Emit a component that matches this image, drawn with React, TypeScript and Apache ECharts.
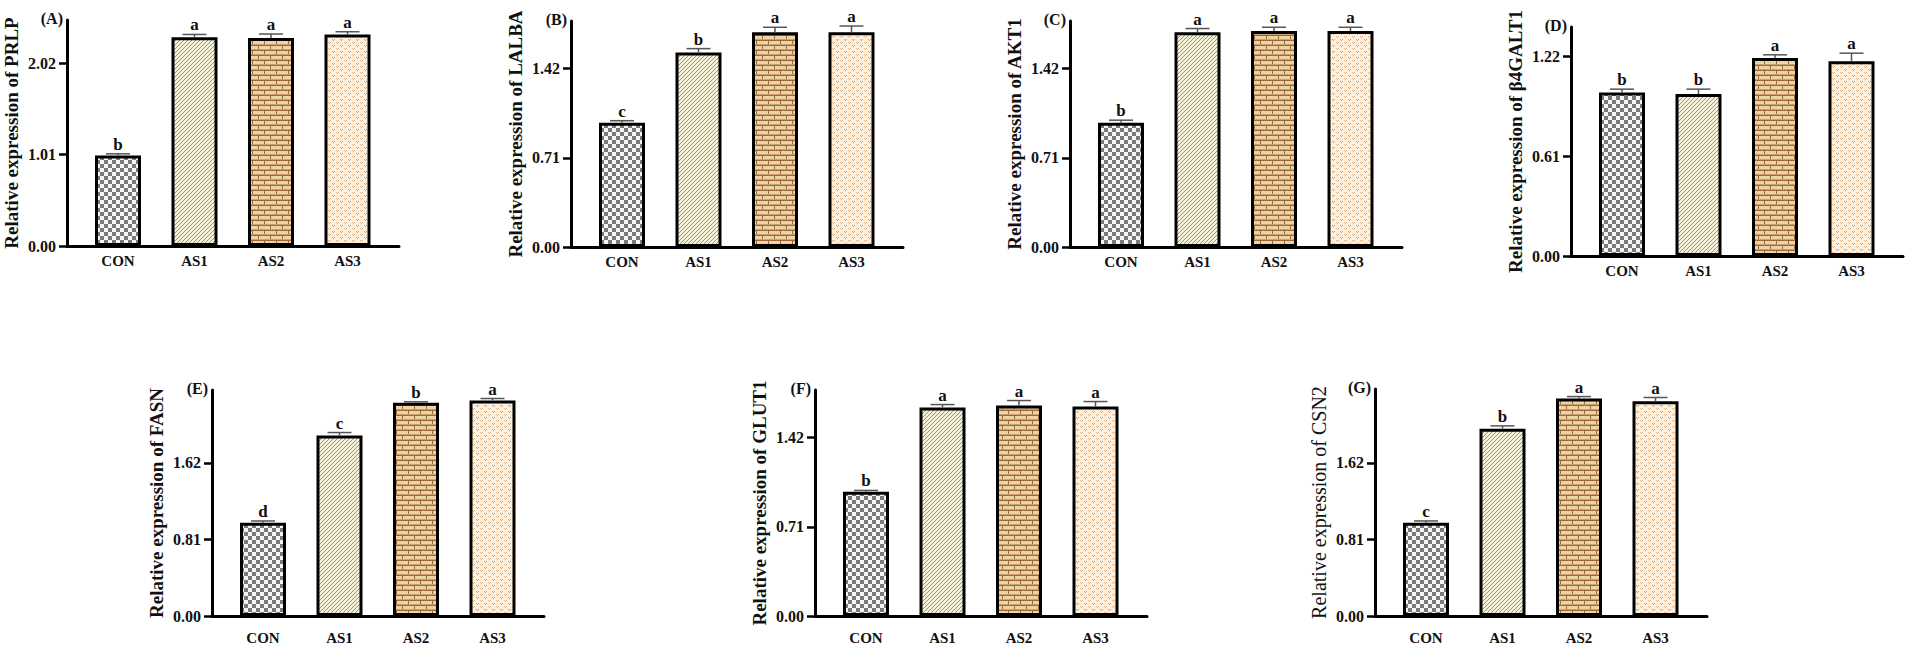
import React, { useEffect, useRef } from "react";
import * as echarts from "echarts";

const categories = ["CON", "AS1", "AS2", "AS3"];

const prlpMeans = [1.0, 2.31, 2.3, 2.34];
const prlpErrors = [0.02, 0.03, 0.045, 0.03];
const prlpLetters = ["b", "a", "a", "a"];
const prlpTicks = [0, 1.01, 2.02];

const lalbaMeans = [0.99, 1.55, 1.71, 1.71];
const lalbaErrors = [0.016, 0.03, 0.04, 0.05];
const lalbaLetters = ["c", "b", "a", "a"];
const lalbaTicks = [0, 0.71, 1.42];

const akt1Means = [0.99, 1.71, 1.72, 1.72];
const akt1Errors = [0.02, 0.03, 0.03, 0.03];
const akt1Letters = ["b", "a", "a", "a"];
const akt1Ticks = [0, 0.71, 1.42];

const galtMeans = [1.0, 0.99, 1.21, 1.19];
const galtErrors = [0.02, 0.03, 0.02, 0.05];
const galtLetters = ["b", "b", "a", "a"];
const galtTicks = [0, 0.61, 1.22];

const fasnMeans = [0.985, 1.91, 2.255, 2.28];
const fasnErrors = [0.02, 0.03, 0.01, 0.02];
const fasnLetters = ["d", "c", "b", "a"];
const fasnTicks = [0, 0.81, 1.62];

const glut1Means = [0.99, 1.66, 1.676, 1.668];
const glut1Errors = [0.01, 0.024, 0.04, 0.04];
const glut1Letters = ["b", "a", "a", "a"];
const glut1Ticks = [0, 0.71, 1.42];

const csn2Means = [0.985, 1.98, 2.3, 2.27];
const csn2Errors = [0.02, 0.03, 0.02, 0.04];
const csn2Letters = ["c", "b", "a", "a"];
const csn2Ticks = [0, 0.81, 1.62];

const axisMaxes = [2.5, 1.8, 1.8, 1.4, 2.39, 1.8, 2.4];

const FONT = '"Liberation Serif", "Times New Roman", serif';

type Panel = {
  tag: string;
  gene: string;
  means: number[];
  errors: number[];
  letters: string[];
  ticks: number[];
  max: number;
  axisX: number;
  top: number;
  bottom: number;
  labelMargin: number;
  boldTitle: boolean;
};

const panels: Panel[] = [
  { tag: "(A)", gene: "PRLP", means: prlpMeans, errors: prlpErrors, letters: prlpLetters, ticks: prlpTicks, max: axisMaxes[0], axisX: 67, top: 20, bottom: 246, labelMargin: 7, boldTitle: true },
  { tag: "(B)", gene: "LALBA", means: lalbaMeans, errors: lalbaErrors, letters: lalbaLetters, ticks: lalbaTicks, max: axisMaxes[1], axisX: 571, top: 21, bottom: 247, labelMargin: 7, boldTitle: true },
  { tag: "(C)", gene: "AKT1", means: akt1Means, errors: akt1Errors, letters: akt1Letters, ticks: akt1Ticks, max: axisMaxes[2], axisX: 1070, top: 21, bottom: 247, labelMargin: 7, boldTitle: true },
  { tag: "(D)", gene: "β4GALT1", means: galtMeans, errors: galtErrors, letters: galtLetters, ticks: galtTicks, max: axisMaxes[3], axisX: 1571, top: 27, bottom: 256, labelMargin: 7, boldTitle: true },
  { tag: "(E)", gene: "FASN", means: fasnMeans, errors: fasnErrors, letters: fasnLetters, ticks: fasnTicks, max: axisMaxes[4], axisX: 212, top: 390, bottom: 616, labelMargin: 14, boldTitle: true },
  { tag: "(F)", gene: "GLUT1", means: glut1Means, errors: glut1Errors, letters: glut1Letters, ticks: glut1Ticks, max: axisMaxes[5], axisX: 815, top: 390, bottom: 616, labelMargin: 14, boldTitle: true },
  { tag: "(G)", gene: "CSN2", means: csn2Means, errors: csn2Errors, letters: csn2Letters, ticks: csn2Ticks, max: axisMaxes[6], axisX: 1375, top: 389, bottom: 616, labelMargin: 14, boldTitle: false },
];

function makeTile(w: number, h: number, draw: (ctx: CanvasRenderingContext2D) => void) {
  const c = document.createElement("canvas");
  c.width = w;
  c.height = h;
  const ctx = c.getContext("2d") as CanvasRenderingContext2D;
  draw(ctx);
  return { image: c.toDataURL(), repeat: "repeat", imageWidth: w, imageHeight: h };
}

function makePatterns() {
  const checker = makeTile(8, 8, (ctx) => {
    ctx.fillStyle = "#f6f6f6";
    ctx.fillRect(0, 0, 8, 8);
    ctx.fillStyle = "#7a7a7a";
    ctx.fillRect(0, 0, 4, 4);
    ctx.fillRect(4, 4, 4, 4);
  });
  const hatch = makeTile(4, 4, (ctx) => {
    ctx.fillStyle = "#f4f1d8";
    ctx.fillRect(0, 0, 4, 4);
    ctx.fillStyle = "#9a977a";
    ctx.fillRect(3, 0, 1, 1);
    ctx.fillRect(2, 1, 1, 1);
    ctx.fillRect(1, 2, 1, 1);
    ctx.fillRect(0, 3, 1, 1);
  });
  const brick = makeTile(12, 10, (ctx) => {
    ctx.fillStyle = "#edd4a6";
    ctx.fillRect(0, 0, 12, 10);
    ctx.fillStyle = "#9c6838";
    ctx.fillRect(0, 0, 12, 1);
    ctx.fillRect(0, 5, 12, 1);
    ctx.fillRect(0, 1, 1, 4);
    ctx.fillRect(6, 6, 1, 4);
    ctx.fillStyle = "#c9a070";
    ctx.fillRect(0, 4, 12, 1);
    ctx.fillRect(0, 9, 12, 1);
  });
  const dots = makeTile(8, 6, (ctx) => {
    ctx.fillStyle = "#fdf0de";
    ctx.fillRect(0, 0, 8, 6);
    ctx.fillStyle = "#e8b07c";
    ctx.fillRect(0, 0, 1, 1);
    ctx.fillRect(2, 0, 1, 1);
    ctx.fillRect(1, 1, 1, 1);
    ctx.fillStyle = "#d9909c";
    ctx.fillRect(4, 3, 1, 1);
    ctx.fillRect(6, 3, 1, 1);
    ctx.fillRect(5, 4, 1, 1);
  });
  return [checker, hatch, brick, dots];
}

function buildOption() {
  const patterns = makePatterns();
  const grid: any[] = [];
  const xAxis: any[] = [];
  const yAxis: any[] = [];
  const series: any[] = [];
  const graphic: any[] = [];

  panels.forEach((p, k) => {
    const outer = 2 * k;
    const inner = 2 * k + 1;
    const height = p.bottom - p.top;
    grid.push({ left: p.axisX, top: p.top, width: 332, height, containLabel: false, outerBoundsMode: "none" });
    grid.push({ left: p.axisX + 12.75, top: p.top, width: 306, height, containLabel: false, outerBoundsMode: "none" });

    xAxis.push({
      gridIndex: outer,
      type: "value",
      min: 0,
      max: 1,
      axisLine: { show: true, onZero: false, lineStyle: { color: "#000", width: 3 } },
      axisTick: { show: false },
      axisLabel: { show: false },
      splitLine: { show: false },
    });
    xAxis.push({
      gridIndex: inner,
      type: "category",
      data: categories,
      axisLine: { show: false },
      axisTick: { show: false },
      splitLine: { show: false },
      axisLabel: {
        show: true,
        interval: 0,
        margin: p.labelMargin,
        color: "#111",
        fontFamily: FONT,
        fontWeight: "bold",
        fontSize: 15,
      },
    });

    yAxis.push({
      gridIndex: outer,
      type: "value",
      min: 0,
      max: p.max,
      axisLine: { show: true, lineStyle: { color: "#000", width: 3 } },
      axisTick: { show: true, length: 8, lineStyle: { color: "#000", width: 2.5 }, customValues: p.ticks },
      axisLabel: {
        show: true,
        customValues: p.ticks,
        formatter: (v: number) => v.toFixed(2),
        margin: 11,
        color: "#111",
        fontFamily: FONT,
        fontWeight: "bold",
        fontSize: 16,
      },
      splitLine: { show: false },
      name: "Relative expression of " + p.gene,
      nameLocation: "middle",
      nameRotate: 90,
      nameGap: 46,
      nameTextStyle: {
        color: "#111",
        fontFamily: FONT,
        fontWeight: p.boldTitle ? "bold" : "normal",
        fontSize: p.boldTitle ? 19 : 20,
      },
    });
    yAxis.push({ gridIndex: inner, type: "value", min: 0, max: p.max, show: false, splitLine: { show: false } });

    series.push({
      type: "bar",
      xAxisIndex: inner,
      yAxisIndex: inner,
      barWidth: 46,
      itemStyle: { borderColor: "#000", borderWidth: 3 },
      data: p.means.map((v, i) => ({ value: v, itemStyle: { color: patterns[i] } })),
      z: 2,
    });

    const letters = p.letters;
    series.push({
      type: "custom",
      xAxisIndex: inner,
      yAxisIndex: inner,
      clip: false,
      z: 5,
      data: p.means.map((v, i) => [i, v, p.errors[i]]),
      renderItem: (params: any, api: any) => {
        const idx = api.value(0);
        const mean = api.value(1);
        const err = api.value(2);
        const base = api.coord([idx, mean]);
        const tip = api.coord([idx, mean + err]);
        const x = base[0];
        return {
          type: "group",
          children: [
            { type: "line", shape: { x1: x, y1: base[1], x2: x, y2: tip[1] }, style: { stroke: "#555", lineWidth: 1.5 } },
            { type: "line", shape: { x1: x - 12, y1: tip[1], x2: x + 12, y2: tip[1] }, style: { stroke: "#555", lineWidth: 1.5 } },
            {
              type: "text",
              x: x,
              y: tip[1] - 1,
              style: {
                text: letters[params.dataIndex],
                fill: "#111",
                font: "bold 17px " + FONT,
                align: "center",
                verticalAlign: "bottom",
                textAlign: "center",
                textVerticalAlign: "bottom",
              },
            },
          ],
        };
      },
    });

    graphic.push({
      type: "text",
      x: p.axisX - 4,
      y: p.top - 2,
      style: {
        text: p.tag,
        fill: "#111",
        font: "bold 16px " + FONT,
        align: "right",
        verticalAlign: "middle",
        textAlign: "right",
        textVerticalAlign: "middle",
      },
    });
  });

  return {
    animation: false,
    backgroundColor: "#ffffff",
    grid,
    xAxis,
    yAxis,
    series,
    graphic,
  };
}

export default function App() {
  const ref = useRef<HTMLDivElement | null>(null);
  useEffect(() => {
    if (!ref.current) return;
    const chart = echarts.init(ref.current, null, { renderer: "svg" });
    chart.setOption(buildOption() as any);
    return () => chart.dispose();
  }, []);
  return (
    <div
      ref={ref}
      style={{ position: "absolute", left: 0, top: 0, width: 1908, height: 647, background: "#fff" }}
    />
  );
}
